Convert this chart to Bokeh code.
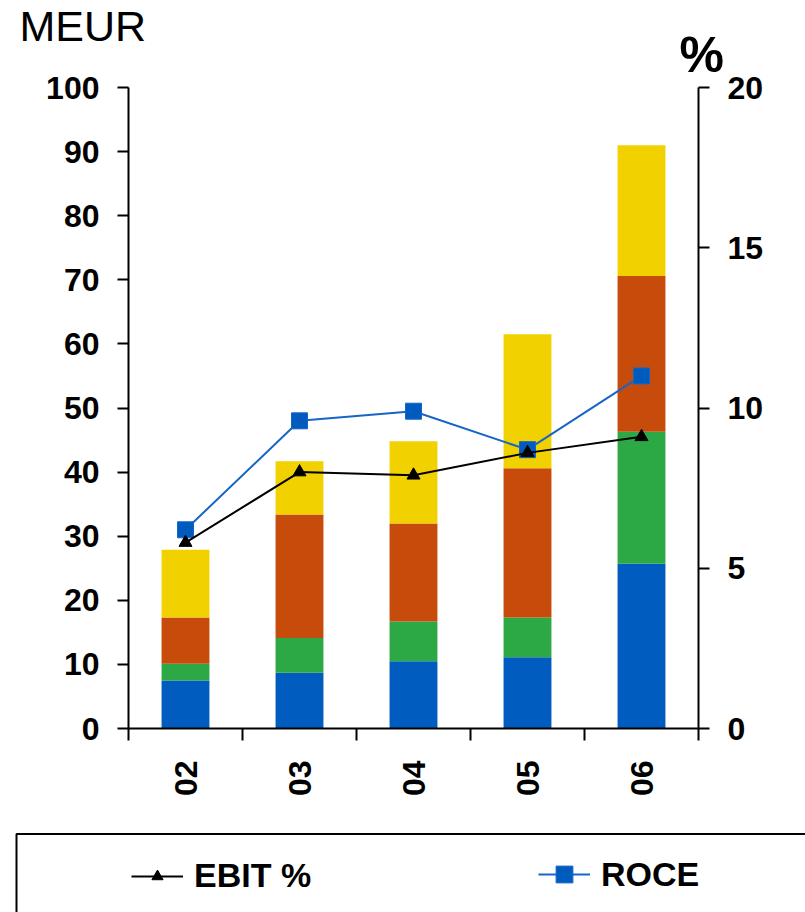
from math import pi

from bokeh.plotting import figure
from bokeh.layouts import column
from bokeh.models import (ColumnDataSource, Range1d, LinearAxis, FixedTicker,
                          Legend, LegendItem, Label, BoxAnnotation)
from bokeh.embed import file_html
from bokeh.resources import INLINE

# Fiscal years and the four stacked segments (MEUR)
years = ["02", "03", "04", "05", "06"]
seg_blue = [7.5, 8.7, 10.5, 11.1, 25.7]
seg_green = [2.6, 5.4, 6.2, 6.2, 20.6]
seg_orange = [7.2, 19.3, 15.3, 23.3, 24.3]
seg_yellow = [10.6, 8.3, 12.8, 20.9, 20.4]

# Ratios on the right-hand axis (%)
ebit_pct = [5.8, 8.0, 7.9, 8.6, 9.1]
roce_pct = [6.2, 9.6, 9.9, 8.7, 11.0]

left_ticks = list(range(0, 101, 10))
right_ticks = [0, 5, 10, 15, 20]

FONT = "Liberation Sans"
BLUE, GREEN, ORANGE, YELLOW = "#005CBF", "#2CA844", "#C74B0B", "#F2D100"
ROCE_LINE, ROCE_FILL = "#1766C6", "#005BBF"
W = 805


def blank_panel(height):
    """A figure whose frame covers the whole canvas, y measured from the top."""
    f = figure(width=W, height=height, output_backend="svg",
               toolbar_location=None, x_range=Range1d(0, W),
               y_range=Range1d(height, 0), x_axis_type=None, y_axis_type=None,
               min_border=0, frame_align=False)
    f.outline_line_color = None
    f.xgrid.visible = False
    f.ygrid.visible = False
    f.background_fill_color = "white"
    f.border_fill_color = "white"
    return f


# ---- header with the unit captions ----
head = blank_panel(75)
head.add_layout(Label(x=19, y=49, text="MEUR", text_font=FONT,
                      text_font_size="43px", text_color="black"))
head.add_layout(Label(x=679, y=82, text="%", text_font=FONT,
                      text_font_style="bold", text_font_size="50px",
                      text_color="black"))

# ---- main chart ----
pos = [i + 0.5 for i in range(len(years))]
edges = list(range(len(years) + 1))

src = ColumnDataSource(dict(x=pos, blue=seg_blue, green=seg_green,
                            orange=seg_orange, yellow=seg_yellow,
                            ebit=ebit_pct, roce=roce_pct))

p = figure(width=W, height=757, output_backend="svg", toolbar_location=None,
           x_range=Range1d(0, len(years)), y_range=Range1d(0, 100),
           min_border_left=128, min_border_right=107,
           min_border_top=12, min_border_bottom=104, frame_align=False)
p.outline_line_color = None
p.xgrid.visible = False
p.ygrid.visible = False
p.background_fill_color = "white"
p.border_fill_color = "white"
p.extra_y_ranges = {"pct": Range1d(0, 20)}


def style_axis(ax):
    ax.axis_line_color = "black"
    ax.axis_line_width = 2
    ax.major_tick_line_color = "black"
    ax.major_tick_line_width = 2
    ax.major_tick_in = 0
    ax.major_tick_out = 11
    ax.minor_tick_line_color = None
    ax.major_label_text_font = FONT
    ax.major_label_text_font_style = "bold"
    ax.major_label_text_font_size = "32px"
    ax.major_label_text_color = "black"
    ax.major_label_standoff = 18


yl = p.yaxis[0]
yl.ticker = FixedTicker(ticks=left_ticks)
style_axis(yl)

yr = LinearAxis(y_range_name="pct", ticker=FixedTicker(ticks=right_ticks))
style_axis(yr)
p.add_layout(yr, "right")

xa = p.xaxis[0]
xa.ticker = FixedTicker(ticks=pos, minor_ticks=edges)
style_axis(xa)
xa.major_label_overrides = {x: y for x, y in zip(pos, years)}
xa.major_tick_line_color = None
xa.major_tick_out = 12
xa.minor_tick_line_color = "black"
xa.minor_tick_line_width = 2
xa.minor_tick_in = 0
xa.minor_tick_out = 12
xa.major_label_orientation = pi / 2
xa.major_label_standoff = 20

p.vbar_stack(["blue", "green", "orange", "yellow"], x="x", width=0.42,
             fill_color=[BLUE, GREEN, ORANGE, YELLOW], line_color=None,
             source=src)

p.line("x", "roce", source=src, y_range_name="pct",
       line_color=ROCE_LINE, line_width=2)
p.scatter("x", "roce", source=src, y_range_name="pct", marker="square",
          size=16, fill_color=ROCE_FILL, line_color=ROCE_LINE, line_width=1)
p.line("x", "ebit", source=src, y_range_name="pct",
       line_color="black", line_width=2)
p.scatter("x", "ebit", source=src, y_range_name="pct", marker="triangle",
          size=13, fill_color="black", line_color="black")

# ---- legend strip ----
leg = blank_panel(80)
leg.add_layout(BoxAnnotation(left=16, right=900, top=1.5, bottom=200,
                             fill_alpha=0, line_color="black", line_alpha=1,
                             line_width=2))

# legend swatches only; their points sit outside the visible strip
offscreen = dict(x=[-50, -40], y=[-50, -50])
e_line = leg.line("x", "y", source=ColumnDataSource(offscreen),
                  line_color="black", line_width=2)
e_pts = leg.scatter("x", "y", source=ColumnDataSource(offscreen),
                    marker="triangle", fill_color="black", line_color="black")
r_line = leg.line("x", "y", source=ColumnDataSource(offscreen),
                  line_color=ROCE_LINE, line_width=2)
r_pts = leg.scatter("x", "y", source=ColumnDataSource(offscreen),
                    marker="square", fill_color=ROCE_FILL,
                    line_color=ROCE_LINE, line_width=1)


def legend_for(label, renderers, x, y, gh):
    return Legend(items=[LegendItem(label=label, renderers=renderers)],
                  location=(x, y), orientation="horizontal",
                  glyph_width=52, glyph_height=gh, label_standoff=11,
                  padding=0, margin=0, spacing=0,
                  border_line_color=None, background_fill_alpha=0,
                  label_text_font=FONT, label_text_font_style="bold",
                  label_text_font_size="34px", label_text_color="black")


leg.add_layout(legend_for("EBIT %", [e_line, e_pts], 131, 17, 28))
leg.add_layout(legend_for("ROCE", [r_line, r_pts], 538, 17, 42))

layout = column(head, p, leg, spacing=0)
open("out.html", "w").write(file_html(layout, INLINE))
